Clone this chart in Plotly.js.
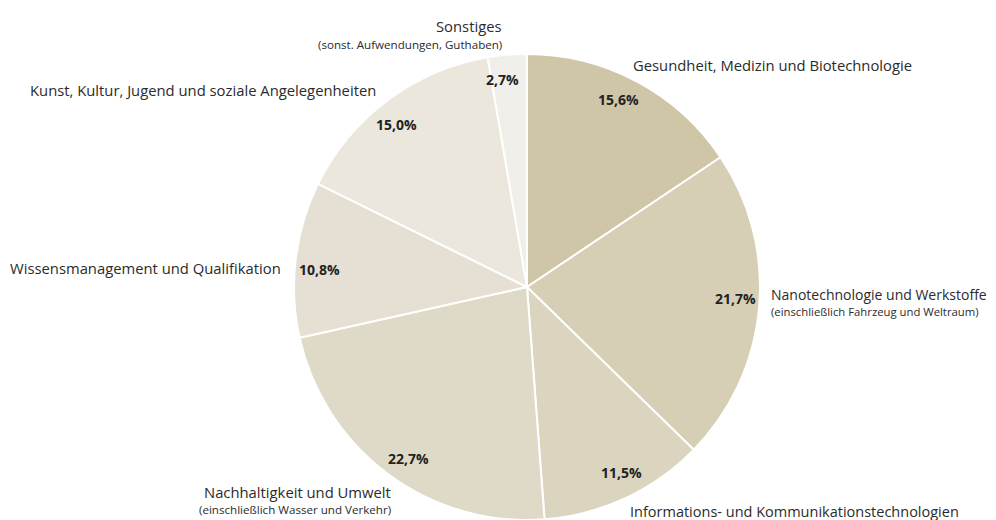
<!DOCTYPE html>
<html>
<head>
<meta charset="utf-8">
<script src="https://cdn.plot.ly/plotly-3.0.1.min.js"></script>
<style>html,body{margin:0;padding:0;background:#fff;}#chart{width:996px;height:520px;}</style>
</head>
<body>
<div id="chart"></div>
<script>
const categories = [
  "Gesundheit, Medizin und Biotechnologie",
  "Nanotechnologie und Werkstoffe",
  "Informations- und Kommunikationstechnologien",
  "Nachhaltigkeit und Umwelt",
  "Wissensmanagement und Qualifikation",
  "Kunst, Kultur, Jugend und soziale Angelegenheiten",
  "Sonstiges"
];
const subtitles = [
  "",
  "(einschließlich Fahrzeug und Weltraum)",
  "",
  "(einschließlich Wasser und Verkehr)",
  "",
  "",
  "(sonst. Aufwendungen, Guthaben)"
];
const shares = [15.6, 21.7, 11.5, 22.7, 10.8, 15.0, 2.7];
const colors = ["#cfc6a8", "#d6cfb5", "#dbd5bf", "#dfdac8", "#e5e0d3", "#ebe7dd", "#f1efea"];

const W = 996, H = 520;
const cx = 527, cy = 287, R = 233;
const dom = {x: [(cx - R) / W, (cx + R) / W], y: [(H - cy - R) / H, (H - cy + R) / H]};

// outer category label anchors (pixel positions, alignment, font size)
const labelPos = [
  {x: 631, y: 65, a: "left", fs: 14.8},
  {x: 769, y: 294, a: "left", sy: 311, fs: 14, ss: 11.3},
  {x: 628, y: 511, a: "left", fs: 14.5},
  {x: 393, y: 492, a: "right", sy: 509, fs: 14.8, ss: 11.6},
  {x: 283, y: 268, a: "right", fs: 14.8},
  {x: 378, y: 90, a: "right", fs: 14.8},
  {x: 504, y: 26, a: "right", sy: 44, fs: 14.8, ss: 11.6}
];

const txtColor = "#2b2b2b";
const font = "'Open Sans', 'Noto Sans', sans-serif";
const annotations = [];
const total = shares.reduce((s, v) => s + v, 0);
let cum = 0;
shares.forEach((v, i) => {
  const th = 2 * Math.PI * (cum + v / 2) / total - 0.035;
  cum += v;
  const px = cx + 0.895 * R * Math.sin(th);
  const py = cy - 0.895 * R * Math.cos(th);
  annotations.push({
    xref: "paper", yref: "paper", x: px / W, y: 1 - py / H,
    xanchor: "center", yanchor: "middle", showarrow: false,
    text: "<b>" + v.toFixed(1).replace(".", ",") + "%</b>",
    font: {family: font, size: 14, color: "#222222"}
  });
  const lp = labelPos[i];
  annotations.push({
    xref: "paper", yref: "paper", x: lp.x / W, y: 1 - lp.y / H,
    xanchor: lp.a, yanchor: "middle", showarrow: false,
    text: categories[i],
    font: {family: font, size: lp.fs, color: txtColor}
  });
  if (subtitles[i]) {
    annotations.push({
      xref: "paper", yref: "paper", x: lp.x / W, y: 1 - lp.sy / H,
      xanchor: lp.a, yanchor: "middle", showarrow: false,
      text: subtitles[i],
      font: {family: font, size: lp.ss, color: txtColor}
    });
  }
});

const data = [{
  type: "pie",
  labels: categories,
  values: shares,
  sort: false,
  direction: "clockwise",
  rotation: 0,
  textinfo: "none",
  hoverinfo: "label+percent",
  marker: {colors: colors, line: {color: "#ffffff", width: 2}},
  domain: dom,
  showlegend: false
}];

const layout = {
  width: W, height: H,
  margin: {l: 0, r: 0, t: 0, b: 0},
  paper_bgcolor: "#ffffff",
  showlegend: false,
  separators: ",.",
  annotations: annotations
};

Plotly.newPlot("chart", data, layout, {displayModeBar: false, staticPlot: true});
</script>
</body>
</html>
